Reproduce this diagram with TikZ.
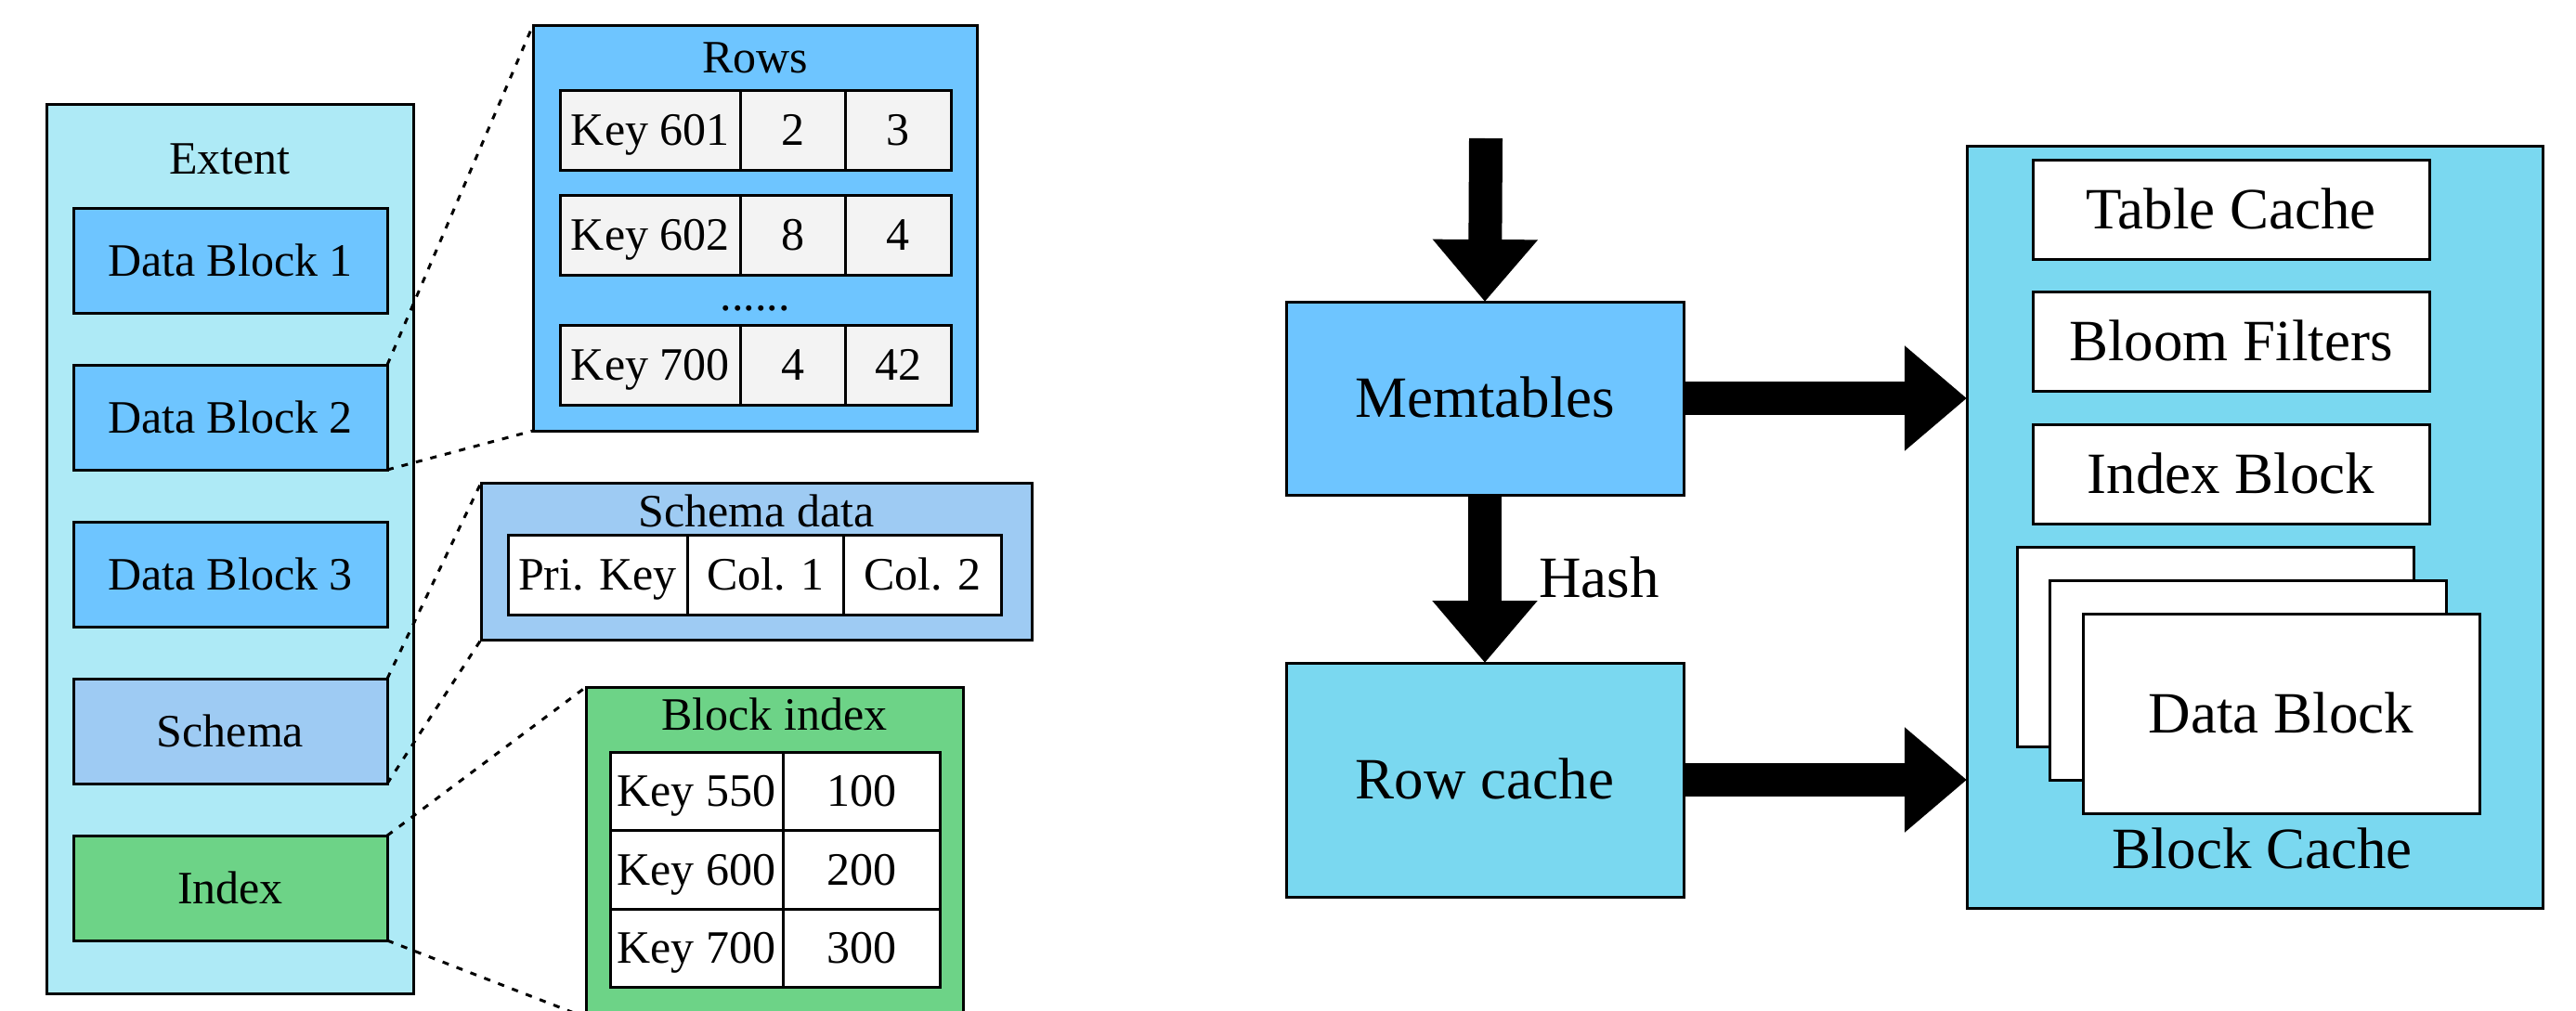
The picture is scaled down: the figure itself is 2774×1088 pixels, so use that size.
\documentclass[tikz,border=0pt]{standalone}
\usepackage{fontspec}
\setmainfont{Liberation Serif}
\usetikzlibrary{arrows.meta}
\definecolor{extentc}{HTML}{AEEAF6}
\definecolor{bluec}{HTML}{6EC5FF}
\definecolor{schemac}{HTML}{9ECBF3}
\definecolor{greenc}{HTML}{6DD387}
\definecolor{cellgc}{HTML}{F3F3F3}
\definecolor{cachec}{HTML}{7AD8F0}
\begin{document}
\begin{tikzpicture}[x=1pt,y=-1pt,
  box/.style={draw=black, line width=3pt, inner sep=0pt, outer sep=0pt, anchor=north west},
  small/.style={font=\fontsize{50}{60}\selectfont, text height=33pt, text depth=0pt},
  big/.style={font=\fontsize{63}{75}\selectfont, text height=41.5pt, text depth=0pt},
  cellg/.style={box, fill=cellgc, small, minimum height=86pt},
  cellw/.style={box, fill=white, small},
  blk/.style={box, small, minimum width=338pt, minimum height=113pt},
  zoomline/.style={draw=black, line width=3pt, dash pattern=on 7pt off 9pt},
  fatarrow/.style={draw=black, line width=36pt, -{Triangle[length=67pt,width=109pt]}}
]
\useasboundingbox (0,0) rectangle (2774,1088);

% ---------- Extent ----------
\node[box, fill=extentc, minimum width=395pt, minimum height=958pt] (extent) at (50,112) {};
\node[small] (extentlbl) at (247.5,171) {Extent};
\node[blk, fill=bluec] (db1) at (79,224) {Data Block 1};
\node[blk, fill=bluec] (db2) at (79,393) {Data Block 2};
\node[blk, fill=bluec] (db3) at (79,562) {Data Block 3};
\node[blk, fill=schemac] (schema) at (79,731) {Schema};
\node[blk, fill=greenc] (index) at (79,900) {Index};

% ---------- Rows ----------
\node[box, fill=bluec, minimum width=478pt, minimum height=437pt] (rows) at (574,27) {};
\node[small] (rowslbl) at (813,62) {Rows};
\node[cellg, minimum width=194.6pt] (r1a) at (603,97) {Key 601};
\node[cellg, minimum width=113pt] (r1b) at (797.6,97) {2};
\node[cellg, minimum width=113.4pt] (r1c) at (910.6,97) {3};
\node[cellg, minimum width=194.6pt] (r2a) at (603,210) {Key 602};
\node[cellg, minimum width=113pt] (r2b) at (797.6,210) {8};
\node[cellg, minimum width=113.4pt] (r2c) at (910.6,210) {4};
\node[small] (dots) at (813,318) {......};
\node[cellg, minimum width=194.6pt] (r3a) at (603,350) {Key 700};
\node[cellg, minimum width=113pt] (r3b) at (797.6,350) {4};
\node[cellg, minimum width=113.4pt] (r3c) at (910.6,350) {42};

% ---------- Schema data ----------
\node[box, fill=schemac, minimum width=593pt, minimum height=169pt] (sdata) at (518,520) {};
\node[small] (sdatalbl) at (814.5,551) {Schema data};
\node[cellw, minimum width=193pt, minimum height=86pt] (s1) at (547,576) {Pri. Key};
\node[cellw, minimum width=168.5pt, minimum height=86pt] (s2) at (740,576) {Col. 1};
\node[cellw, minimum width=169.5pt, minimum height=86pt] (s3) at (908.5,576) {Col. 2};

% ---------- Block index ----------
\node[box, fill=greenc, minimum width=406pt, minimum height=356pt] (bindex) at (631,740) {};
\node[small] (bindexlbl) at (834,770) {Block index};
\node[cellw, minimum width=186pt, minimum height=84.5pt] (b1a) at (657,810) {Key 550};
\node[cellw, minimum width=169pt, minimum height=84.5pt] (b1b) at (843,810) {100};
\node[cellw, minimum width=186pt, minimum height=84.5pt] (b2a) at (657,894.5) {Key 600};
\node[cellw, minimum width=169pt, minimum height=84.5pt] (b2b) at (843,894.5) {200};
\node[cellw, minimum width=186pt, minimum height=84.5pt] (b3a) at (657,979) {Key 700};
\node[cellw, minimum width=169pt, minimum height=84.5pt] (b3b) at (843,979) {300};

% ---------- zoom lines ----------
\draw[zoomline] (db2.north east) -- (rows.north west);
\draw[zoomline] (db2.south east) -- (rows.south west);
\draw[zoomline] (schema.north east) -- (sdata.north west);
\draw[zoomline] (schema.south east) -- (sdata.south west);
\draw[zoomline] (index.north east) -- (bindex.north west);
\draw[zoomline] (index.south east) -- (bindex.south west);

% ---------- Right part ----------
\node[box, fill=bluec, big, minimum width=428pt, minimum height=208pt] (mem) at (1385,325) {Memtables};
\node[box, fill=cachec, big, minimum width=428pt, minimum height=252pt] (rowcache) at (1385,714) {Row cache};
\node[box, fill=cachec, minimum width=620pt, minimum height=821pt] (bcache) at (2118,157) {};
\node[box, fill=white, big, minimum width=427pt, minimum height=107pt] (tcache) at (2189,172) {Table Cache};
\node[box, fill=white, big, minimum width=427pt, minimum height=107pt] (bloom) at (2189,314.5) {Bloom Filters};
\node[box, fill=white, big, minimum width=427pt, minimum height=107pt] (iblock) at (2189,457.5) {Index Block};
\node[box, fill=white, minimum width=427pt, minimum height=215pt] (dback) at (2172,589) {};
\node[box, fill=white, minimum width=427pt, minimum height=215pt] (dmid) at (2207,625) {};
\node[box, fill=white, big, minimum width=427pt, minimum height=215pt] (dfront) at (2243,661) {Data Block};
\node[big] (bcachelbl) at (2436,915) {Block Cache};

\coordinate (instart) at (1600,149);
\draw[fatarrow] (instart) -- (mem.north);
\draw[fatarrow] (mem.south) -- (rowcache.north);
\node[big] (hash) at (1722,623) {Hash};
\draw[fatarrow] (mem.east) -- (mem.east -| bcache.west);
\draw[fatarrow] (rowcache.east) -- (rowcache.east -| bcache.west);
\end{tikzpicture}
\end{document}
